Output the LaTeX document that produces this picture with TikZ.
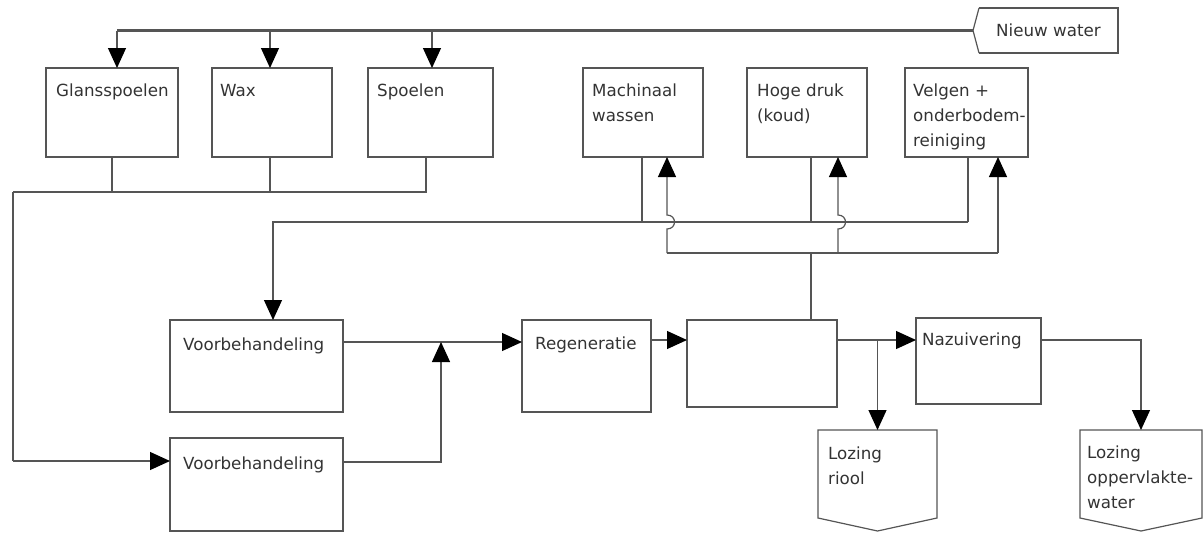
\documentclass[tikz,border=0pt]{standalone}
\usepackage{fontspec}
\setmainfont{DejaVu Sans}
\usetikzlibrary{arrows.meta,calc}
\definecolor{ln}{HTML}{555555}
\definecolor{txt}{HTML}{333333}
\begin{document}
\begin{tikzpicture}[x=1pt,y=-1pt,
  box/.style={draw=ln, line width=1.2pt, inner sep=0pt, outer sep=0pt},
  ghost/.style={inner sep=0pt, outer sep=0pt},
  lbl/.style={anchor=north west, inner sep=0pt, align=left, text=txt,
              font=\fontsize{16.7}{25}\selectfont},
  line/.style={draw=ln, line width=1.2pt},
  heavy/.style={draw=ln, line width=2.3pt},
  arr/.style={line, -{Triangle[length=20pt,width=18pt,color=black]}}]
\useasboundingbox (0,0) rectangle (1204,533);

% process boxes (centre, width, height)
\node[box, minimum width=132pt, minimum height=89pt] (gl)  at (112,112.5) {};
\node[box, minimum width=120pt, minimum height=89pt] (wax) at (272,112.5) {};
\node[box, minimum width=125pt, minimum height=89pt] (sp)  at (430.5,112.5) {};
\node[box, minimum width=120pt, minimum height=89pt] (ma)  at (643,112.5) {};
\node[box, minimum width=120pt, minimum height=89pt] (hd)  at (807,112.5) {};
\node[box, minimum width=123pt, minimum height=89pt] (vg)  at (966.5,112.5) {};
\node[box, minimum width=173pt, minimum height=92pt] (vb1) at (256.5,366) {};
\node[box, minimum width=173pt, minimum height=93pt] (vb2) at (256.5,484.5) {};
\node[box, minimum width=129pt, minimum height=92pt] (reg) at (586.5,366) {};
\node[box, minimum width=150pt, minimum height=87pt] (mid) at (762,363.5) {};
\node[box, minimum width=125pt, minimum height=86pt] (naz) at (978.5,361) {};
\draw[line, line width=2.2pt] (mid.north east) -- (mid.south east);
\draw[line, line width=2pt] (sp.north east) -- (sp.south east);
\draw[line, line width=2pt] (sp.north west) -- (sp.south west);

% off-page connectors
\node[ghost, minimum width=119pt, minimum height=88pt] (lr) at (877.5,474) {};
\node[ghost, minimum width=122pt, minimum height=88pt] (lo) at (1141,474) {};
\draw[line] (lr.north west) -- (lr.north east) -- (lr.south east)
  -- ($(lr.south)+(0,13)$) -- (lr.south west) -- cycle;
\draw[line] (lo.north west) -- (lo.north east) -- (lo.south east)
  -- ($(lo.south)+(0,13)$) -- (lo.south west) -- cycle;

% fresh water supply
\node[ghost, minimum width=139pt, minimum height=45pt, text=txt,
      font=\fontsize{16.7}{25}\selectfont] (nw) at (1048.5,30.5) {Nieuw water};
\coordinate (nwtip) at ([xshift=-6pt]nw.west);
\draw[line, line width=1.8pt] (nw.north west) -- (nw.north east) -- (nw.south east) -- (nw.south west);
\draw[line] (nw.north west) -- (nwtip) -- (nw.south west);

% labels
\node[lbl] (gl-t)  at ([shift={(10,16)}]gl.north west) {Glansspoelen};
\node[lbl] (wax-t) at ([shift={(8,16)}]wax.north west) {Wax};
\node[lbl] (sp-t)  at ([shift={(9,16)}]sp.north west) {Spoelen};
\node[lbl] (ma-t)  at ([shift={(9,16)}]ma.north west) {Machinaal\\wassen};
\node[lbl] (hd-t)  at ([shift={(10,16)}]hd.north west) {Hoge druk\\(koud)};
\node[lbl] (vg-t)  at ([shift={(8,16)}]vg.north west) {Velgen +\\onderbodem-\\reiniging};
\node[lbl] (vb1-t) at ([shift={(13,18)}]vb1.north west) {Voorbehandeling};
\node[lbl] (vb2-t) at ([shift={(13,19)}]vb2.north west) {Voorbehandeling};
\node[lbl] (reg-t) at ([shift={(13,17)}]reg.north west) {Regeneratie};
\node[lbl] (naz-t) at ([shift={(6,15)}]naz.north west) {Nazuivering};
\node[lbl] (lr-t)  at ([shift={(10,17)}]lr.north west) {Lozing\\riool};
\node[lbl] (lo-t)  at ([shift={(7,16)}]lo.north west) {Lozing\\oppervlakte-\\water};

% supply line to the rinsing stages
\coordinate (j1) at (117,30.5);
\coordinate (j2) at (270,30.5);
\coordinate (j3) at (432,30.5);
\draw[heavy] (nwtip) -- (j1);
\draw[arr] (j1) -- (j1 |- gl.north);
\draw[arr] (j2) -- (j2 |- wax.north);
\draw[arr] (j3) -- (j3 |- sp.north);

% collected rinse water to the lower pre-treatment
\coordinate (c0) at (13,192);
\coordinate (c1) at (13,461);
\draw[line] (gl.south) -- (gl.south |- c0);
\draw[line] (270,0 |- wax.south) -- (270,192);
\draw[line] (426,0 |- sp.south) -- (426,192) -- (c0);
\draw[heavy] (c0) -- (c1);
\draw[arr] (c1) -- (vb2.west |- c1);

% washing stages to the upper pre-treatment
\coordinate (w0) at (968,222);
\coordinate (w1) at (273,222);
\draw[line] (642,0 |- ma.south) -- (642,222);
\draw[line] (811,0 |- hd.south) -- (811,222);
\draw[heavy] (968,0 |- vg.south) -- (w0);
\draw[arr] (w0) -- (w1) -- (w1 |- vb1.north);

% treatment chain
\coordinate (m0) at (441,342);
\draw[arr] (vb1.east |- m0) -- (reg.west |- m0);
\draw[arr] (vb2.east |- 0,462) -- (441,462) -- (m0);
\draw[arr] (reg.east |- 0,340) -- (mid.west |- 0,340);
\draw[arr] (mid.east |- 0,340) -- (naz.west |- 0,340);
\draw[arr] (lr.north |- 0,340) -- (lr.north);
\draw[arr] (naz.east |- 0,340) -- (lo.north |- 0,340) -- (lo.north);

% reuse water back to the washing stages
\coordinate (r0) at (811,253);
\draw[line] (811,0 |- mid.north) -- (r0);
\draw[heavy] (667,253) -- (998,253);
\draw[arr] (667,253) -- (667,229) .. controls (677,229) and (677,215) .. (667,215)
  -- (667,0 |- ma.south);
\draw[arr] (838,253) -- (838,229) .. controls (848,229) and (848,215) .. (838,215)
  -- (838,0 |- hd.south);
\draw[arr] (998,253) -- (998,0 |- vg.south);
\end{tikzpicture}
\end{document}
